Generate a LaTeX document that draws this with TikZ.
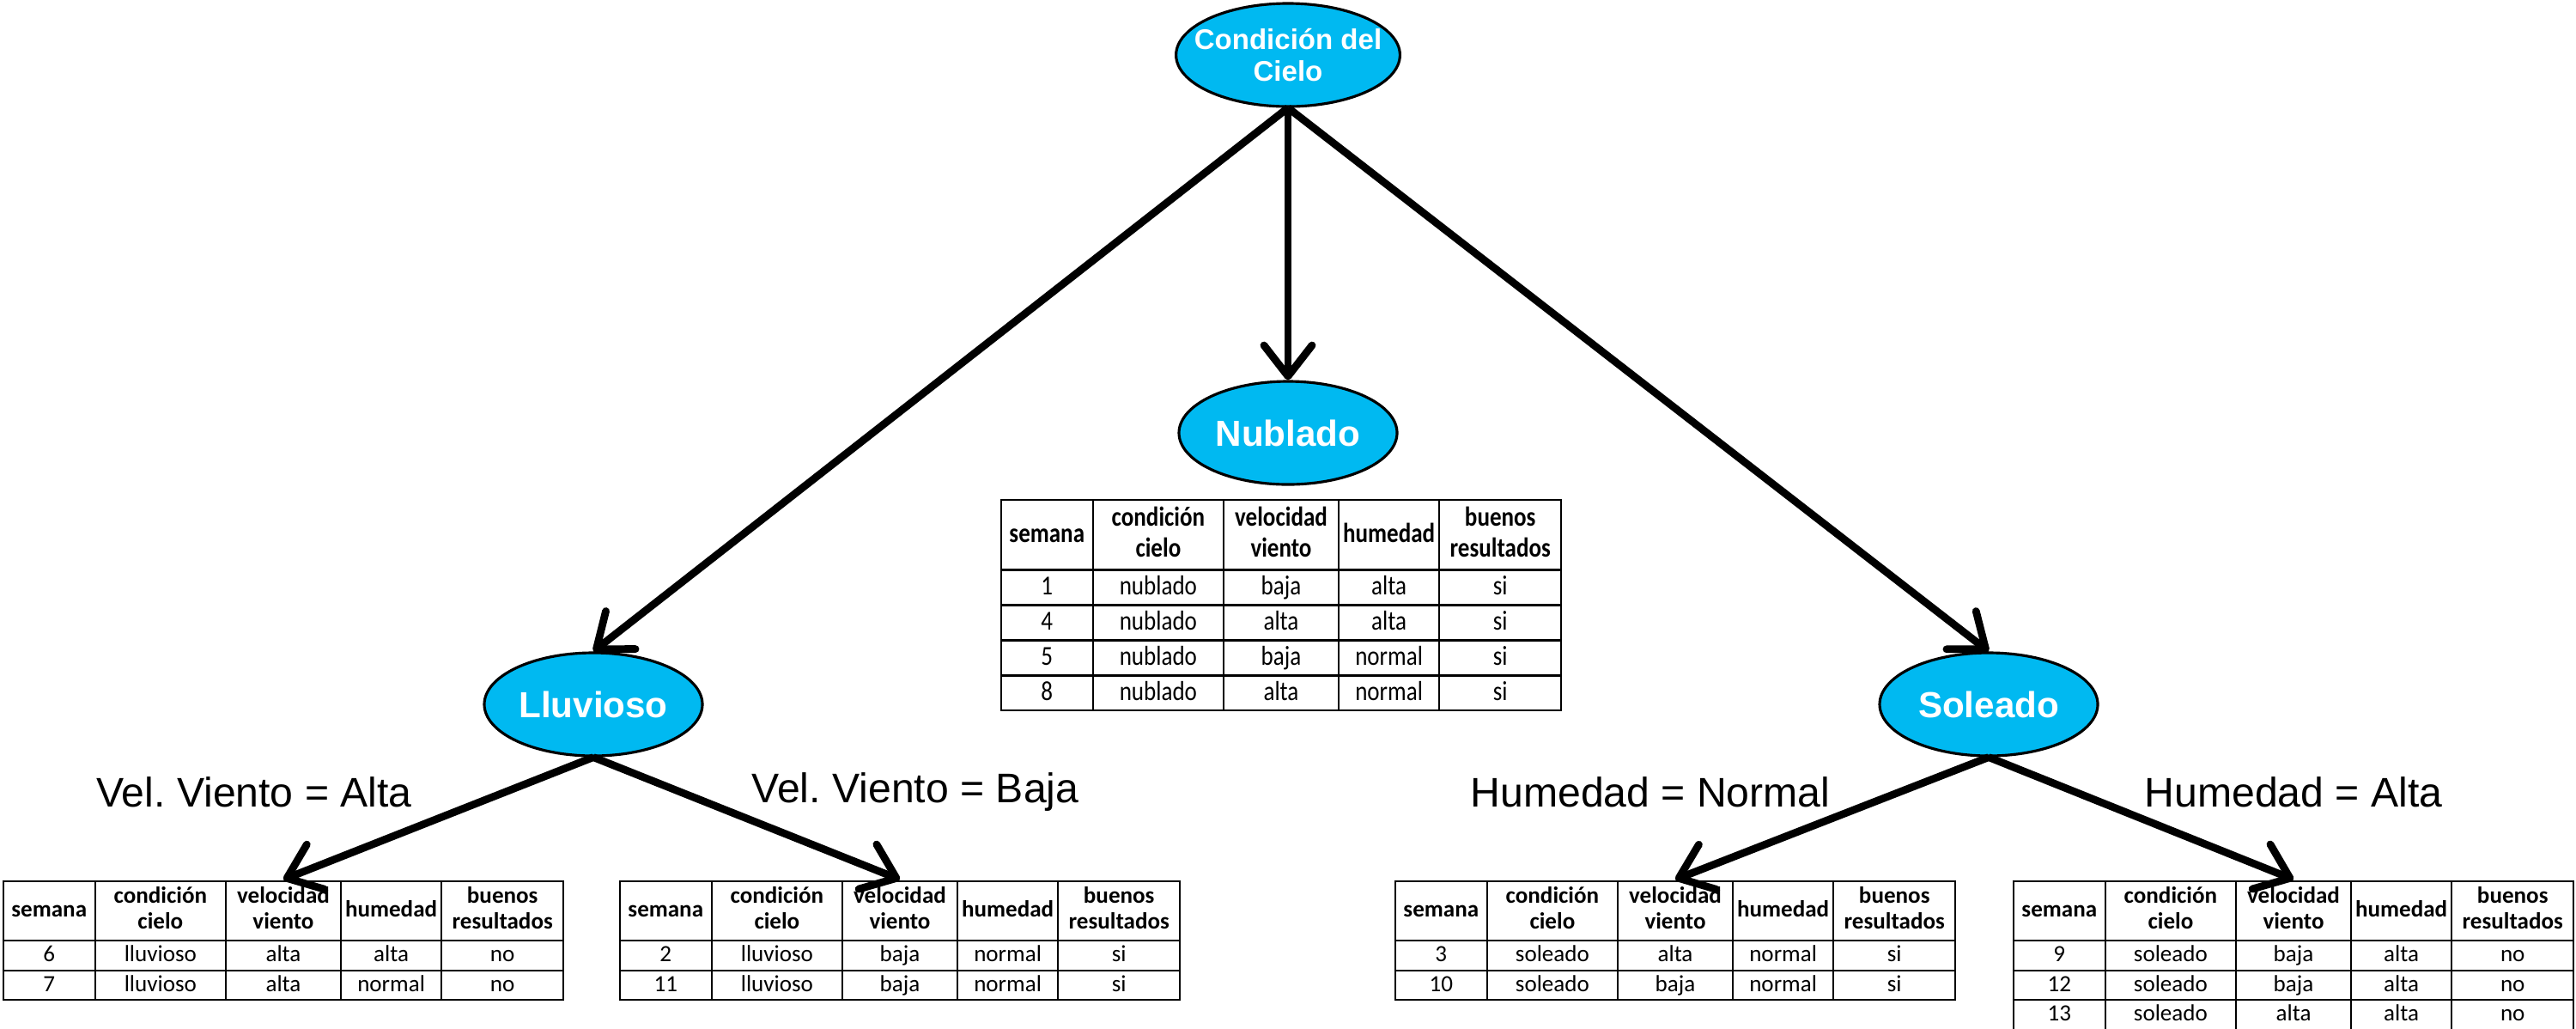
\documentclass[tikz,border=0pt]{standalone}
\usepackage{fontspec}
\usepackage{array}
\usepackage{graphicx}
\usetikzlibrary{shapes.geometric,arrows.meta}
\setmainfont{Liberation Sans}
\newfontfamily\calibri{Carlito}
\definecolor{nodecolorc}{HTML}{00B9F1}
\colorlet{nodecolor}{nodecolorc}
\colorlet{nodetext}{white}
\newcolumntype{C}[1]{>{\centering\arraybackslash}p{#1}}
\newcommand{\hd}[1]{% two-line header
\begin{tabular}{@{}c@{}}#1\end{tabular}}
\newcommand{\hs}{\rule[-0.26cm]{0pt}{0.67cm}}
\newcommand{\rs}{\rule[-0.085cm]{0pt}{0.32cm}}
\newcommand{\tabla}[1]{%
{\calibri\fontsize{7.7}{8.6}\selectfont
\setlength{\tabcolsep}{0pt}\setlength{\arrayrulewidth}{0.6pt}%
\begin{tabular}{|C{1.05cm}|C{1.50cm}|C{1.32cm}|C{1.15cm}|C{1.40cm}|}
\hline
\hs\textbf{semana} & {\bfseries\hd{condición\\cielo}} & {\bfseries\hd{velocidad\\viento}} & \textbf{humedad} & {\bfseries\hd{buenos\\resultados}}\\ \hline
#1
\end{tabular}}}
\tikzstyle{nodo} = [
    ellipse,
    draw=black,
    line width=0.9pt,
    fill=nodecolor,
    text=nodetext,
    font=\bfseries\fontsize{12}{14}\selectfont,
    minimum width=2.54cm,
    minimum height=1.20cm,
    inner sep=0pt,
    align=center
    ]
\tikzstyle{flecha} = [
    line width=2.5pt,
    -{Straight Barb[round,length=0.36cm,width=0.56cm]}
    ]
\tikzstyle{rama} = [font=\fontsize{13.7}{16}\selectfont]
\tikzstyle{tabla} = [inner sep=0pt, anchor=north]

\begin{document}
\frenchspacing
\begin{tikzpicture}
\useasboundingbox (0,0) rectangle (30,-11.97);

\node[nodo, inner xsep=-0.17cm, font=\bfseries\fontsize{9.4}{10.5}\selectfont] (cielo) at (15.00,-0.64) {Condición del\\Cielo};
\node[nodo] (nublado) at (15.00,-5.04) {Nublado};
\node[nodo] (lluvioso) at (6.91,-8.20) {Lluvioso};
\node[nodo] (soleado) at (23.16,-8.20) {Soleado};

\node[tabla] (tabnub) at (14.92,-5.80) {\scalebox{1}[1.18]{\tabla{%
\rs 1 & nublado & baja & alta & si\\ \hline
\rs 4 & nublado & alta & alta & si\\ \hline
\rs 5 & nublado & baja & normal & si\\ \hline
\rs 8 & nublado & alta & normal & si\\ \hline}}};

\node[tabla] (tabaltav) at (3.30,-10.24) {\tabla{%
\rs 6 & lluvioso & alta & alta & no\\ \hline
\rs 7 & lluvioso & alta & normal & no\\ \hline}};
\node[tabla] (tabbajav) at (10.48,-10.24) {\tabla{%
\rs 2 & lluvioso & baja & normal & si\\ \hline
\rs 11 & lluvioso & baja & normal & si\\ \hline}};
\node[tabla] (tabnormalh) at (19.51,-10.24) {\tabla{%
\rs 3 & soleado & alta & normal & si\\ \hline
\rs 10 & soleado & baja & normal & si\\ \hline}};
\node[tabla] (tabaltah) at (26.71,-10.24) {\tabla{%
\rs 9 & soleado & baja & alta & no\\ \hline
\rs 12 & soleado & baja & alta & no\\ \hline
\rs 13 & soleado & alta & alta & no\\ \hline}};

\node[rama] (altav) at (2.96,-9.22) {Vel. Viento = Alta};
\node[rama] (bajav) at (10.66,-9.22) {Vel. Viento = Baja};
\node[rama] (normalh) at (19.22,-9.22) {Humedad = Normal};
\node[rama] (altah) at (26.71,-9.22) {Humedad = Alta};

\draw[flecha] (cielo.south) -- (nublado.north);
\draw[flecha] (cielo.south) -- (lluvioso.north);
\draw[flecha] (cielo.south) -- (soleado.north);
\draw[flecha] (lluvioso.south) -- (tabaltav.north);
\draw[flecha] (lluvioso.south) -- (tabbajav.north);
\draw[flecha] (soleado.south) -- (tabnormalh.north);
\draw[flecha] (soleado.south) -- (tabaltah.north);
\end{tikzpicture}
\end{document}
